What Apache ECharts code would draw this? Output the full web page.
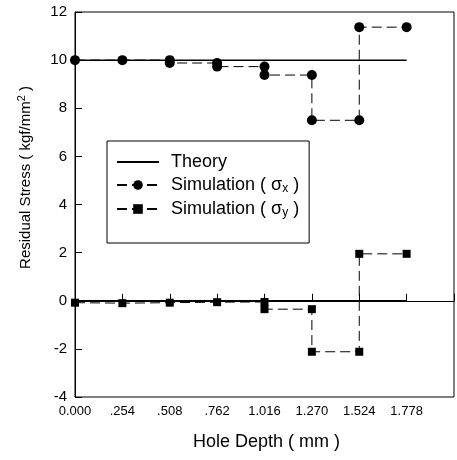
<!DOCTYPE html>
<html>
<head>
<meta charset="utf-8">
<script src="https://cdn.jsdelivr.net/npm/echarts@6/dist/echarts.min.js"></script>
<style>
  html, body { margin: 0; padding: 0; background: #fff; }
  #chart { width: 457px; height: 460px; }
</style>
</head>
<body>
<div id="chart"></div>
<script>
// hole depth tick positions (mm)
var depthTicks = [0, 0.254, 0.508, 0.762, 1.016, 1.270, 1.524, 1.778];

// theory: constant stress lines
var theoryX = [[0, 10], [1.778, 10]];
var theoryY = [[0, 0], [1.778, 0]];

// simulation sigma x (step curve)
var sxDepth  = [0, 0.254, 0.508, 0.508, 0.762, 0.762, 1.016, 1.016, 1.270, 1.270, 1.524, 1.524, 1.778];
var sxStress = [10, 10, 10, 9.88, 9.88, 9.73, 9.73, 9.38, 9.38, 7.5, 7.5, 11.37, 11.37];

// simulation sigma y (step curve)
var syDepth  = [0, 0.254, 0.508, 0.762, 1.016, 1.016, 1.270, 1.270, 1.524, 1.524, 1.778];
var syStress = [-0.08, -0.1, -0.08, -0.06, -0.05, -0.35, -0.35, -2.12, -2.12, 1.95, 1.95];

function pairs(xs, ys) {
    return xs.map(function (x, i) { return [x, ys[i]]; });
}

var font = 'Liberation Sans, Arial, sans-serif';
var chart = echarts.init(document.getElementById('chart'));

var option = {
    backgroundColor: '#fff',
    animation: false,
    textStyle: { fontFamily: font, color: '#000' },
    grid: {
        left: 75, top: 12, right: -8, bottom: 63,
        show: true, borderColor: '#000', borderWidth: 1,
        containLabel: false
    },
    xAxis: {
        type: 'value',
        min: 0, max: 2.032, interval: 0.254,
        name: 'Hole Depth ( mm )',
        nameLocation: 'middle',
        nameGap: 36,
        nameTextStyle: { fontSize: 18, color: '#000', fontFamily: font, padding: [0, 0, 0, 4] },
        axisLine: { lineStyle: { color: '#000', width: 1 } },
        axisTick: { inside: true, length: 7, lineStyle: { color: '#000' } },
        axisLabel: {
            fontSize: 13, color: '#000', margin: 8, fontFamily: font,
            formatter: function (v) {
                if (v > 1.9) return '';
                var s = v.toFixed(3);
                if (v > 0 && v < 1) s = s.substring(1);
                return s;
            }
        },
        splitLine: { show: false }
    },
    yAxis: {
        type: 'value',
        min: -4, max: 12, interval: 2,
        name: '{a|Residual Stress ( kgf/mm}{s|2}{a| )}',
        nameLocation: 'middle',
        nameGap: 39,
        nameTextStyle: {
            fontSize: 15, color: '#000', fontFamily: font,
            padding: [0, 0, 0, 54],
            rich: {
                a: { fontSize: 15, fontFamily: font, color: '#000', lineHeight: 20 },
                s: { fontSize: 11, fontFamily: font, color: '#000', verticalAlign: 'top', lineHeight: 20 }
            }
        },
        axisLine: { show: true, lineStyle: { color: '#000', width: 1 } },
        axisTick: { show: true, inside: true, length: 7, lineStyle: { color: '#000' } },
        axisLabel: { fontSize: 15, color: '#000', margin: 8, fontFamily: font },
        splitLine: { show: false }
    },
    legend: {
        orient: 'vertical',
        left: 107, top: 141,
        backgroundColor: '#fff',
        borderColor: '#000', borderWidth: 1, borderRadius: 0,
        padding: [12, 10, 24, 9],
        itemWidth: 42, itemHeight: 12, itemGap: 5,
        data: [
            { name: 'Theory', itemStyle: { opacity: 0 } },
            'Simulation x',
            'Simulation y'
        ],
        formatter: function (name) {
            if (name === 'Theory') return '{a|Theory}';
            var sub = name === 'Simulation x' ? 'x' : 'y';
            return '{a|Simulation ( σ}{b|' + sub + '}{a| )}';
        },
        textStyle: {
            fontFamily: font, color: '#000', padding: [0, 0, 0, 7],
            rich: {
                a: { fontSize: 18, fontFamily: font, color: '#000', lineHeight: 20 },
                b: { fontSize: 12, fontFamily: font, color: '#000', verticalAlign: 'bottom', lineHeight: 20, padding: [7, 0, 0, 0] }
            }
        }
    },
    series: [
        {
            name: 'Theory', type: 'line', data: theoryX,
            symbol: 'none', lineStyle: { color: '#000', width: 1.5 }, itemStyle: { color: '#000' }, z: 1
        },
        {
            name: 'Theory', type: 'line', data: theoryY,
            symbol: 'none', lineStyle: { color: '#000', width: 1.5 }, itemStyle: { color: '#000' }, z: 1
        },
        {
            name: 'Simulation x', type: 'line', data: pairs(sxDepth, sxStress),
            symbol: 'circle', symbolSize: 10,
            lineStyle: { color: '#000', width: 1, type: [10, 5] },
            itemStyle: { color: '#000' }, z: 3
        },
        {
            name: 'Simulation y', type: 'line', data: pairs(syDepth, syStress),
            symbol: 'rect', symbolSize: 8,
            lineStyle: { color: '#000', width: 1, type: [10, 5] },
            itemStyle: { color: '#000' }, z: 3
        }
    ]
};

chart.setOption(option);
</script>
</body>
</html>
